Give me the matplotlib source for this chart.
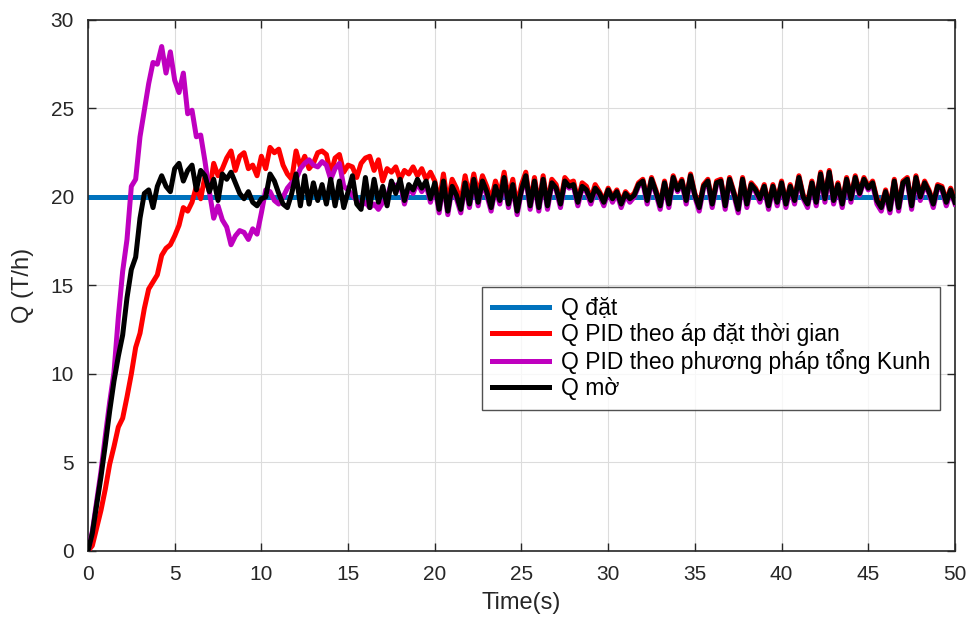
import numpy as np
import matplotlib.pyplot as plt

# time axis, 0.25 s step
t = np.linspace(0, 50, 201)

# Q dat (setpoint)
q_set = 20.0

# Q PID theo ap dat thoi gian (red)
q_pid_time = [
    0, 0.3, 1.3, 2.3, 3.5, 4.9, 5.9, 7.0, 7.5, 8.7,
    10.0, 11.5, 12.3, 13.7, 14.8, 15.2, 15.6, 16.7, 17.1, 17.3,
    17.8, 18.4, 19.4, 19.2, 19.7, 20.6, 19.9, 21.2, 20.3, 21.9,
    21.2, 21.6, 22.2, 22.6, 21.5, 22.3, 22.5, 21.6, 21.8, 21.2,
    22.3, 21.6, 22.8, 22.5, 22.7, 21.8, 21.3, 21.0, 22.6, 21.7,
    22.3, 21.6, 21.9, 22.5, 22.6, 22.4,
    21.3, 22.2, 22.4, 21.4, 21.8, 21.7, 21.1, 21.9, 22.2, 22.3, 21.5, 22.1,
    20.9, 21.6, 21.4, 21.7, 21.0, 21.5, 21.3, 21.7, 21.2, 21.6, 21.0, 21.4, 20.9,
    19.7, 21.3, 19.6, 21.0, 20.5, 19.7, 21.2, 20.0, 21.3, 20.1,
    21.2, 20.6, 19.8, 20.9, 20.1, 21.4, 19.9, 21.0, 19.5, 20.7,
    21.4, 19.6, 21.1, 19.5, 21.2, 19.6, 21.0, 20.7, 19.7, 21.1,
    20.8, 20.9, 19.8, 20.8, 20.6, 19.9, 20.7, 20.3, 19.8, 20.5,
    20.0, 20.4, 19.7, 20.3, 20.0, 20.2, 20.8, 21.0, 19.9, 21.1,
    20.4, 19.6, 20.9, 19.7, 21.2, 20.5, 21.0, 19.9, 21.3, 20.2,
    19.5, 20.7, 21.0, 19.7, 20.9, 21.0, 19.6, 21.1, 20.3, 19.4,
    21.1, 19.7, 20.8, 20.5, 20.0, 20.7, 19.6, 20.7, 19.8, 20.9,
    19.7, 20.7, 19.9, 21.2, 20.1, 19.7, 20.9, 19.8, 21.4, 20.0,
    21.5, 19.9, 20.8, 19.7, 21.1, 20.0, 21.2, 20.3, 21.1, 20.6,
    20.9, 19.9, 19.5, 20.4, 19.4, 21.0, 19.5, 20.9, 21.1, 19.6,
    21.2, 20.1, 20.9, 20.4, 19.7, 20.7, 20.6, 19.8, 20.5, 19.8,
]

# Q PID theo phuong phap tong Kunh (purple)
q_pid_kunh = [
    0, 1.1, 2.8, 4.5, 6.5, 8.4, 10.1, 13.2, 15.8, 17.6,
    20.6, 21.0, 23.4, 24.9, 26.4, 27.6, 27.5, 28.5, 27.0, 28.2,
    26.6, 25.9, 27.0, 24.7, 24.9, 23.4, 23.5, 22.0, 20.3, 18.8,
    19.5, 18.7, 18.3, 17.3, 17.8, 18.1, 18.0, 17.6, 18.2, 17.9,
    19.1, 20.4, 20.3, 19.8, 19.6, 20.0, 20.5, 20.8, 21.0, 21.6,
    21.9, 22.1, 21.8, 21.7, 22.0, 21.8,
    21.0, 21.6, 21.9, 20.6, 20.4, 20.1, 19.8, 19.5, 19.7, 19.4,
    19.6, 19.3, 19.7, 20.0, 20.8,
    20.6, 20.8, 19.6, 20.5, 20.2, 20.8, 20.3, 20.7, 19.7, 20.6,
    19.1, 20.8, 19.0, 20.5, 19.9, 19.1, 20.7, 19.4, 20.9, 19.5,
    20.8, 20.1, 19.2, 20.5, 19.6, 21.0, 19.4, 20.6, 19.0, 20.3,
    21.1, 19.3, 20.8, 19.2, 20.9, 19.3, 20.7, 20.4, 19.4, 20.8,
    20.5, 20.6, 19.5, 20.5, 20.3, 19.6, 20.4, 20.1, 19.5, 20.3,
    19.7, 20.2, 19.4, 20.1, 19.7, 20.0, 20.6, 20.8, 19.6, 20.9,
    20.2, 19.3, 20.7, 19.4, 21.0, 20.3, 20.8, 19.6, 21.1, 20.0,
    19.2, 20.5, 20.8, 19.4, 20.7, 20.8, 19.3, 20.9, 20.1, 19.1,
    20.9, 19.4, 20.6, 20.3, 19.7, 20.5, 19.3, 20.5, 19.5, 20.7,
    19.4, 20.5, 19.6, 21.0, 19.9, 19.4, 20.7, 19.5, 21.2, 19.7,
    21.3, 19.6, 20.6, 19.4, 20.9, 19.7, 21.0, 20.1, 20.9, 20.4,
    20.7, 19.6, 19.2, 20.2, 19.1, 20.8, 19.2, 20.7, 20.9, 19.3,
    21.0, 19.8, 20.7, 20.2, 19.4, 20.5, 20.4, 19.5, 20.3, 19.6,
]

# Q mo (fuzzy, black)
q_fuzzy = [
    0, 1.0, 2.6, 4.2, 6.0, 7.9, 9.6, 11.0, 12.2, 14.3,
    15.9, 16.6, 18.8, 20.2, 20.4, 19.4, 20.6, 21.2, 20.6, 20.3,
    21.6, 21.9, 20.9, 21.5, 21.8, 20.4, 21.5, 21.2, 20.3, 21.0,
    19.8, 21.3, 21.0, 21.4, 20.8, 20.2, 19.9, 20.3, 19.7, 19.5,
    19.9, 20.0, 21.3, 20.9, 20.2, 19.6, 19.4, 20.2, 21.3, 19.5,
    21.2, 19.6, 20.8, 19.8, 20.7, 19.6,
    21.0, 19.5, 20.9, 19.4, 20.3, 21.2, 19.6, 19.3, 21.1, 19.4,
    21.0, 19.7, 20.6, 19.5, 20.9, 20.2, 21.0, 19.8, 20.7, 20.4,
    21.0, 20.5, 20.9, 19.9, 20.8,
    19.3, 20.9, 19.2, 20.6, 20.1, 19.3, 20.8, 19.6, 21.0, 19.7,
    20.9, 20.3, 19.4, 20.6, 19.8, 21.1, 19.6, 20.7, 19.2, 20.4,
    21.2, 19.5, 20.9, 19.4, 21.0, 19.5, 20.8, 20.5, 19.6, 20.9,
    20.6, 20.7, 19.7, 20.6, 20.4, 19.8, 20.5, 20.2, 19.7, 20.4,
    19.9, 20.3, 19.6, 20.2, 19.9, 20.1, 20.7, 20.9, 19.8, 21.0,
    20.3, 19.5, 20.8, 19.6, 21.1, 20.4, 20.9, 19.8, 21.2, 20.1,
    19.4, 20.6, 20.9, 19.6, 20.8, 20.9, 19.5, 21.0, 20.2, 19.3,
    21.0, 19.6, 20.7, 20.4, 19.9, 20.6, 19.5, 20.6, 19.7, 20.8,
    19.6, 20.6, 19.8, 21.1, 20.0, 19.6, 20.8, 19.7, 21.3, 19.9,
    21.4, 19.8, 20.7, 19.6, 21.0, 19.9, 21.1, 20.2, 21.0, 20.5,
    20.8, 19.8, 19.4, 20.3, 19.3, 20.9, 19.4, 20.8, 21.0, 19.5,
    21.1, 20.0, 20.8, 20.3, 19.6, 20.6, 20.5, 19.7, 20.4, 19.7,
]

labels = ['Q đặt', 'Q PID theo áp đặt thời gian',
          'Q PID theo phương pháp tổng Kunh', 'Q mờ']

plt.rcParams['font.family'] = ['Liberation Sans', 'DejaVu Sans']

fig = plt.figure(figsize=(9.7, 6.24), dpi=100)
ax = fig.add_axes([0.0907, 0.117, 0.8938, 0.851])

lw = 3.6
ax.plot([t[0], t[-1]], [q_set, q_set], color='#0072BD', lw=lw, label=labels[0], zorder=2)
ax.plot(t, q_pid_time, color='#FF0000', lw=lw, label=labels[1], zorder=3)
ax.plot(t, q_pid_kunh, color='#BF00BF', lw=lw, label=labels[2], zorder=4)
ax.plot(t, q_fuzzy, color='black', lw=lw, label=labels[3], zorder=5)

ax.set_xlim(0, 50)
ax.set_ylim(0, 30)
ax.set_xticks(np.arange(0, 51, 5))
ax.set_yticks(np.arange(0, 31, 5))
ax.grid(True, color='#dcdcdc', lw=0.8)
ax.set_axisbelow(True)
ax.tick_params(direction='in', top=True, right=True, length=6, width=1,
               colors='#262626', labelsize=15, pad=10)
for s in ax.spines.values():
    s.set_color('#262626')
    s.set_linewidth(1.2)

ax.set_xlabel('Time(s)', fontsize=17, color='#262626', labelpad=6)
ax.set_ylabel('Q (T/h)', fontsize=17, color='#262626', labelpad=12)

leg = ax.legend(loc='upper left', bbox_to_anchor=(0.454, 0.497), fontsize=16.5,
                frameon=True, fancybox=False, edgecolor='#262626',
                handlelength=2.5, labelspacing=0.12, borderaxespad=0,
                borderpad=0.45, handletextpad=0.5)
leg.get_frame().set_linewidth(1.0)

fig.savefig('out.png', dpi=100)
